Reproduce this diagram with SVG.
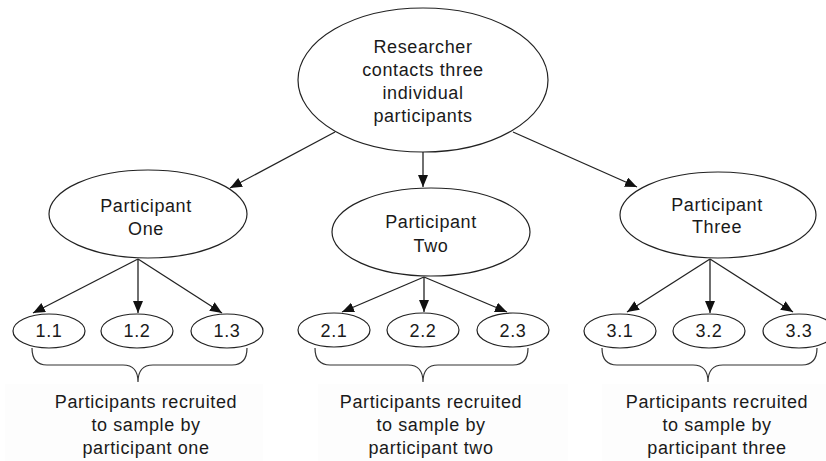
<svg xmlns="http://www.w3.org/2000/svg" width="826" height="461" viewBox="0 0 826 461">
<style>
.n{fill:#ffffff;stroke:#222;stroke-width:1.2}
.t{font-family:"Liberation Sans",Arial,sans-serif;font-size:18px;fill:#1a1a1a;text-anchor:middle;letter-spacing:0.6px}
.c{stroke:#222;stroke-width:1.3;fill:none}
.b{stroke:#333;stroke-width:1.2;fill:none}
.bg{fill:#fdfdfd}
</style>
<defs>
<marker id="ah" markerUnits="userSpaceOnUse" markerWidth="13" markerHeight="11" refX="12" refY="5" orient="auto">
<path d="M0,0 L12,5 L0,10 z" fill="#111"/>
</marker>
</defs>
<rect width="826" height="461" fill="#ffffff"/>
<g id="connectors">
<line class="c" x1="335" y1="132" x2="230" y2="188" marker-end="url(#ah)"/>
<line class="c" x1="423" y1="152" x2="423" y2="187" marker-end="url(#ah)"/>
<line class="c" x1="513" y1="132" x2="637" y2="187" marker-end="url(#ah)"/>
<line class="c" x1="138" y1="259" x2="33" y2="313" marker-end="url(#ah)"/>
<line class="c" x1="138" y1="259" x2="138" y2="313" marker-end="url(#ah)"/>
<line class="c" x1="138" y1="259" x2="222" y2="313" marker-end="url(#ah)"/>
<line class="c" x1="424" y1="277" x2="342" y2="312" marker-end="url(#ah)"/>
<line class="c" x1="424" y1="277" x2="424" y2="312" marker-end="url(#ah)"/>
<line class="c" x1="424" y1="277" x2="507" y2="312" marker-end="url(#ah)"/>
<line class="c" x1="710" y1="259" x2="627" y2="312" marker-end="url(#ah)"/>
<line class="c" x1="710" y1="259" x2="710" y2="313" marker-end="url(#ah)"/>
<line class="c" x1="710" y1="259" x2="793" y2="312" marker-end="url(#ah)"/>
</g>
<g id="researcher">
<ellipse class="n" cx="423" cy="80" rx="125" ry="72"/>
<text class="t" x="423" y="53">Researcher</text>
<text class="t" x="423" y="76">contacts three</text>
<text class="t" x="423" y="99">individual</text>
<text class="t" x="423" y="122">participants</text>
</g>
<g id="p1">
<ellipse class="n" cx="148" cy="214" rx="99" ry="44"/>
<text class="t" x="146" y="212">Participant</text>
<text class="t" x="146" y="235">One</text>
</g>
<g id="p2">
<ellipse class="n" cx="431" cy="232" rx="99" ry="44"/>
<text class="t" x="431" y="228">Participant</text>
<text class="t" x="431" y="252">Two</text>
</g>
<g id="p3">
<ellipse class="n" cx="718" cy="215" rx="98" ry="43"/>
<text class="t" x="717" y="211">Participant</text>
<text class="t" x="717" y="233">Three</text>
</g>
<g id="n11"><ellipse class="n" cx="49" cy="331" rx="36" ry="17"/><text class="t" x="49" y="337">1.1</text></g>
<g id="n12"><ellipse class="n" cx="137" cy="331" rx="36" ry="17"/><text class="t" x="137" y="337">1.2</text></g>
<g id="n13"><ellipse class="n" cx="227" cy="331" rx="36" ry="17"/><text class="t" x="227" y="337">1.3</text></g>
<g id="n21"><ellipse class="n" cx="334" cy="330" rx="36" ry="17"/><text class="t" x="334" y="337">2.1</text></g>
<g id="n22"><ellipse class="n" cx="423" cy="330" rx="36" ry="17"/><text class="t" x="423" y="337">2.2</text></g>
<g id="n23"><ellipse class="n" cx="513" cy="330" rx="36" ry="17"/><text class="t" x="513" y="337">2.3</text></g>
<g id="n31"><ellipse class="n" cx="620" cy="331" rx="36" ry="17"/><text class="t" x="620" y="337">3.1</text></g>
<g id="n32"><ellipse class="n" cx="709" cy="331" rx="36" ry="17"/><text class="t" x="709" y="337">3.2</text></g>
<g id="n33"><ellipse class="n" cx="799" cy="331" rx="36" ry="17"/><text class="t" x="799" y="337">3.3</text></g>
<g id="group1">
<path class="b" d="M32,348 Q32,365 47,365 L123,365 Q138,365 138,382 Q138,365 153,365 L232,365 Q247,365 247,348"/>
<rect class="bg" x="5" y="384" width="258" height="77"/>
<text class="t" x="146" y="408">Participants recruited</text>
<text class="t" x="146" y="431">to sample by</text>
<text class="t" x="146" y="454">participant one</text>
</g>
<g id="group2">
<path class="b" d="M315,348 Q315,365 330,365 L408,365 Q423,365 423,382 Q423,365 438,365 L513,365 Q528,365 528,348"/>
<rect class="bg" x="318" y="384" width="250" height="77"/>
<text class="t" x="431" y="408">Participants recruited</text>
<text class="t" x="431" y="431">to sample by</text>
<text class="t" x="431" y="454">participant two</text>
</g>
<g id="group3">
<path class="b" d="M602,348 Q602,365 617,365 L693,365 Q708,365 708,382 Q708,365 723,365 L802,365 Q817,365 817,348"/>
<rect class="bg" x="602" y="384" width="224" height="77"/>
<text class="t" x="717" y="408">Participants recruited</text>
<text class="t" x="717" y="431">to sample by</text>
<text class="t" x="717" y="454">participant three</text>
</g>
</svg>
